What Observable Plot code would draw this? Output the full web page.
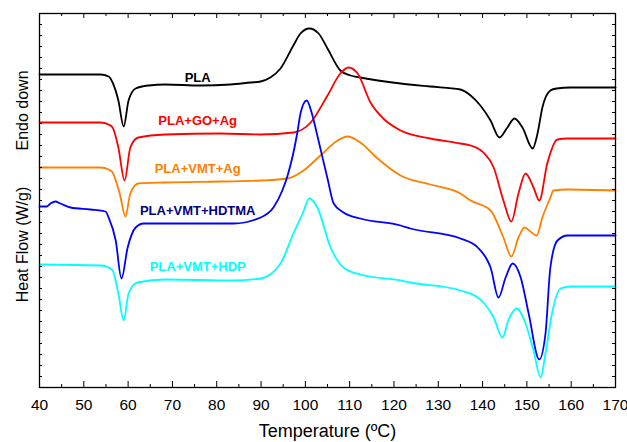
<!DOCTYPE html>
<html>
<head>
<meta charset="utf-8">
<script src="https://cdn.jsdelivr.net/npm/d3@7"></script>
<script src="https://cdn.jsdelivr.net/npm/@observablehq/plot@0.6"></script>
<style>
  html, body { margin: 0; padding: 0; background: #fff; }
  svg { display: block; }
</style>
</head>
<body>
<div id="chart"></div>
<script>
// Temperature (°C) and heat flow (arbitrary W/g offsets, endo down)
const plaT  = [40, 53.8, 55.6, 56.5, 57.8, 59.0, 60.1, 61.7, 64.6, 68.4, 76.3, 83.1, 87.6, 89.9, 92.1, 94.4, 97.3, 98.9, 100.9, 103.0, 105.0, 107.9, 110.2, 112.4, 121.5, 128.2, 135.0, 137.3, 139.5, 141.8, 143.8, 145.6, 147.2, 149.0, 151.3, 152.4, 153.5, 155.3, 156.7, 159.8, 170];
const plaHF = [31.3, 31.3, 31.1, 30.5, 28.7, 26.1, 28.7, 29.9, 30.2, 30.3, 30.2, 30.3, 30.5, 30.6, 31.0, 31.9, 34.2, 35.4, 35.9, 35.4, 33.9, 31.7, 31.2, 31.0, 30.4, 30.1, 29.8, 29.2, 28.2, 26.7, 25.0, 26.0, 26.9, 26.0, 23.9, 25.4, 28.0, 29.7, 29.9, 30.0, 30.0];

const goT  = [40, 53.8, 55.6, 56.5, 57.8, 59.2, 60.5, 62.3, 68.4, 80.9, 89.9, 97.3, 101.2, 105.0, 107.9, 109.7, 111.8, 114.7, 117.6, 121.5, 128.2, 135.0, 137.3, 140.2, 142.5, 144.7, 146.5, 148.1, 149.7, 151.5, 152.8, 154.6, 156.9, 159.2, 170];
const goHF = [26.5, 26.5, 26.3, 26.0, 24.0, 20.7, 24.0, 25.0, 25.3, 25.4, 25.3, 25.5, 26.5, 29.2, 31.4, 32.0, 31.4, 28.5, 26.9, 25.7, 24.9, 24.4, 24.2, 23.5, 22.0, 18.7, 16.6, 19.4, 21.4, 20.0, 18.7, 22.4, 24.8, 24.9, 24.9];

const agT  = [40, 53.8, 55.6, 56.5, 58.1, 59.4, 60.5, 62.3, 68.4, 80.9, 89.9, 96.0, 99.6, 103.4, 107.3, 109.5, 112.4, 116.3, 121.5, 128.2, 135.0, 137.3, 141.8, 144.7, 146.5, 148.1, 149.5, 150.8, 152.2, 153.5, 155.3, 156.0, 159.2, 170];
const agHF = [22.0, 22.0, 21.8, 21.5, 19.4, 17.1, 19.4, 20.4, 20.5, 20.6, 20.7, 20.9, 21.7, 23.2, 24.7, 25.1, 24.5, 22.9, 21.2, 20.3, 19.4, 18.7, 17.7, 15.0, 13.1, 15.0, 16.0, 15.6, 15.2, 17.0, 19.0, 19.7, 19.8, 19.7];

const hdtmaT  = [40, 41.6, 42.5, 43.6, 44.7, 47.0, 51.5, 54.9, 55.6, 57.2, 58.5, 59.9, 61.7, 63.5, 68.4, 83.8, 89.9, 92.8, 94.8, 96.0, 98.2, 98.9, 100.3, 101.6, 102.7, 105.0, 106.4, 108.6, 112.4, 121.5, 123.7, 135.0, 138.9, 141.1, 141.8, 143.6, 145.2, 146.8, 148.6, 150.4, 152.8, 154.2, 155.3, 156.9, 159.2, 170];
const hdtmaHF = [18.1, 18.1, 18.4, 18.6, 18.4, 18.0, 17.8, 17.6, 17.0, 14.7, 10.9, 14.0, 16.0, 16.4, 16.4, 16.4, 17.0, 18.0, 19.7, 21.2, 25.5, 27.4, 28.7, 27.2, 25.2, 20.9, 18.4, 17.5, 16.9, 16.2, 15.9, 14.9, 14.0, 12.7, 12.0, 9.0, 11.0, 12.4, 11.0, 7.4, 2.8, 5.4, 12.0, 14.7, 15.2, 15.2];

const hdpT  = [40, 53.8, 55.6, 56.5, 57.8, 59.0, 60.1, 62.1, 68.4, 83.8, 89.9, 94.4, 97.3, 99.4, 100.9, 102.7, 105.7, 108.6, 112.4, 121.5, 123.7, 135.0, 138.9, 140.2, 142.5, 144.5, 145.8, 147.7, 149.7, 151.5, 153.1, 154.2, 155.8, 157.6, 159.8, 170];
const hdpHF = [12.3, 12.2, 12.0, 11.7, 9.4, 6.7, 9.4, 10.5, 10.8, 10.7, 10.9, 12.4, 15.4, 17.4, 18.9, 18.0, 14.0, 12.0, 11.3, 10.7, 10.5, 9.7, 9.0, 8.5, 7.0, 5.0, 6.7, 7.9, 6.4, 3.7, 1.0, 3.4, 7.7, 9.9, 10.1, 10.1];

const seriesNames  = ["PLA", "PLA+GO+Ag", "PLA+VMT+Ag", "PLA+VMT+HDTMA", "PLA+VMT+HDP"];
const lineColors   = ["#000000", "#ff0000", "#ff8000", "#0000ff", "#00ffff"];
const labelColors  = ["#000000", "#ff0000", "#ff8000", "#000080", "#00ffff"];
const labelT  = [75.7, 75.7, 75.7, 75.7, 75.7];
const labelHF = [31.0, 26.7, 21.9, 17.7, 12.1];

const xTicksMajor = [40, 50, 60, 70, 80, 90, 100, 110, 120, 130, 140, 150, 160, 170];
const xTicksMinor = [45, 55, 65, 75, 85, 95, 105, 115, 125, 135, 145, 155, 165];
const yTicks = d3.range(0, 35).map(i => +(i * 1.1).toFixed(2));

const temps = [plaT, goT, agT, hdtmaT, hdpT];
const flows = [plaHF, goHF, agHF, hdtmaHF, hdpHF];
const rows = [];
seriesNames.forEach((name, i) => {
  temps[i].forEach((t, j) => rows.push({series: name, T: t, HF: flows[i][j]}));
});
const labels = seriesNames.map((name, i) => ({series: name, T: labelT[i], HF: labelHF[i], color: labelColors[i]}));

const W = 627, H = 442, mL = 39, mR = 12, mT = 13, mB = 55;
const innerH = H - mT - mB, innerW = W - mL - mR;

const chart = Plot.plot({
  width: W, height: H,
  marginLeft: mL, marginRight: mR, marginTop: mT, marginBottom: mB,
  style: {fontFamily: "'Liberation Sans', Arial, sans-serif", fontSize: "16px", background: "#fff", color: "#000"},
  x: {domain: [40, 170]},
  y: {domain: [0, 37.4]},
  color: {domain: seriesNames, range: lineColors},
  marks: [
    Plot.line(rows, {x: "T", y: "HF", z: "series", stroke: "series", strokeWidth: 1.8, curve: "monotone-x"}),
    Plot.text(labels, {x: "T", y: "HF", text: "series", fill: "color", fontWeight: "bold", fontSize: 13, fontFamily: "'Liberation Sans', Arial, sans-serif"}),
    // inward ticks
    Plot.tickX(xTicksMajor, {x: d => d, insetTop: innerH - 6, stroke: "#000", strokeWidth: 1}),
    Plot.tickX(xTicksMinor, {x: d => d, insetTop: innerH - 3, stroke: "#000", strokeWidth: 1}),
    Plot.tickX(xTicksMajor, {x: d => d, insetBottom: innerH - 5, stroke: "#000", strokeWidth: 1}),
    Plot.tickX(xTicksMinor, {x: d => d, insetBottom: innerH - 3, stroke: "#000", strokeWidth: 1}),
    Plot.tickY(yTicks, {y: d => d, insetRight: innerW - 3, stroke: "#000", strokeWidth: 1}),
    Plot.tickY(yTicks, {y: d => d, insetLeft: innerW - 3, stroke: "#000", strokeWidth: 1}),
    Plot.axisX(xTicksMajor, {tickSize: 0, tickPadding: 11, label: null, fontSize: 15.5, fontFamily: "'Liberation Sans', Arial, sans-serif"}),
    Plot.axisY({ticks: [], tickSize: 0, label: null}),
    Plot.text(["Temperature (ºC)"], {frameAnchor: "bottom", textAnchor: "middle", dx: 0, dy: 44, lineAnchor: "middle", fontSize: 18}),
    Plot.text(["Endo down"], {frameAnchor: "left", textAnchor: "middle", rotate: -90, dx: -17, dy: -90, fontSize: 16}),
    Plot.text(["Heat Flow (W/g)"], {frameAnchor: "left", textAnchor: "middle", rotate: -90, dx: -17, dy: 44, fontSize: 16}),
    Plot.frame({stroke: "#000", strokeWidth: 1.3})
  ]
});
document.getElementById("chart").appendChild(chart);
</script>
</body>
</html>
